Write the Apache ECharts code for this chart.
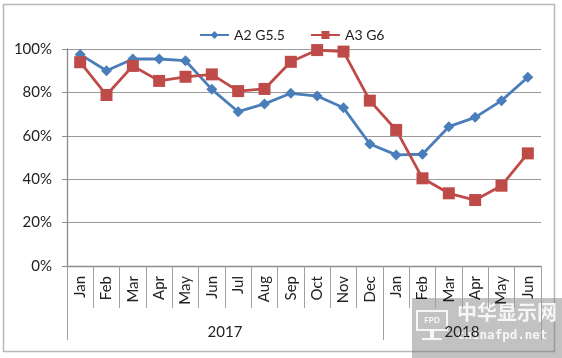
<!DOCTYPE html>
<html><head><meta charset="utf-8">
<script src="https://cdn.jsdelivr.net/npm/echarts@6/dist/echarts.min.js"></script>
<style>html,body{margin:0;padding:0;background:#fff}#c{width:562px;height:358px}</style>
</head><body><div id="c"></div>
<script>
var months = ['Jan','Feb','Mar','Apr','May','Jun','Jul','Aug','Sep','Oct','Nov','Dec','Jan','Feb','Mar','Apr','May','Jun'];
var years = ['2017','2018'];
var yearSpan = [12, 6];
var seriesA2 = [97.5, 90.0, 95.4, 95.4, 94.6, 81.4, 71.1, 74.7, 79.6, 78.3, 72.9, 56.2, 51.2, 51.5, 64.2, 68.5, 76.2, 87.0];
var seriesA3 = [93.9, 78.8, 92.2, 85.3, 87.2, 88.3, 80.6, 81.6, 94.1, 99.5, 98.8, 76.2, 62.7, 40.4, 33.5, 30.4, 37.0, 51.9];
var yTicks = [0, 20, 40, 60, 80, 100];

// year axis: half-month points, year labels at centre of each span
var yearData = [], yearLabelIdx = [], yearTickIdx = [0];
(function(){
  var n = 0;
  for (var i = 0; i < years.length; i++) {
    yearLabelIdx.push(n + yearSpan[i]);
    n += yearSpan[i] * 2;
    yearTickIdx.push(n);
  }
  for (var k = 0; k <= n; k++) yearData.push('');
  for (var j = 0; j < years.length; j++) yearData[yearLabelIdx[j]] = years[j];
})();

var font = 'Lato, "Open Sans", sans-serif';
var chart = echarts.init(document.getElementById('c'), null, {renderer:'canvas'});
chart.setOption({
  animation: false,
  textStyle: {fontFamily: font},
  legend: {
    top: 23, left: 194, itemGap: 25, itemWidth: 29, itemHeight: 10,
    textStyle: {fontSize: 14, color: '#222', fontFamily: font},
    data: ['A2 G5.5', 'A3 G6']
  },
  grid: {left: 67, right: 21, top: 49, bottom: 92, containLabel: false},
  xAxis: [{
    type: 'category', data: months, boundaryGap: true,
    axisLine: {lineStyle: {color: '#8c8c8c', width: 1.3}},
    axisTick: {show: true, interval: 0, length: 42, lineStyle: {color: '#a0a0a0'}},
    axisLabel: {rotate: 90, interval: 0, margin: 10,
      fontSize: 15, color: '#222', fontFamily: font}
  }, {
    type: 'category', data: yearData, boundaryGap: false, position: 'bottom',
    axisLine: {show: false},
    axisTick: {show: true, length: 74, lineStyle: {color: '#a0a0a0'},
      interval: function(i){ return yearTickIdx.indexOf(i) >= 0; }},
    axisLabel: {show: true, margin: 59, fontSize: 15, color: '#222', fontFamily: font,
      interval: function(i){ return yearLabelIdx.indexOf(i) >= 0; }}
  }],
  yAxis: {
    type: 'value', min: 0, max: 100, interval: 20,
    axisLine: {show: true, lineStyle: {color: '#8c8c8c', width: 1.3}},
    axisTick: {show: true, length: 5, lineStyle: {color: '#8c8c8c'}},
    axisLabel: {formatter: '{value}%', fontSize: 15, color: '#222', margin: 15, fontFamily: font},
    splitLine: {lineStyle: {color: '#9a9a9a', width: 1.2}}
  },
  series: [{
    name: 'A2 G5.5', type: 'line', data: seriesA2, xAxisIndex: 0,
    symbol: 'diamond', symbolSize: 11,
    lineStyle: {color: '#4a7ebb', width: 2.8},
    itemStyle: {color: '#4a7ebb'}
  }, {
    name: 'A3 G6', type: 'line', data: seriesA3, xAxisIndex: 0,
    symbol: 'rect', symbolSize: 12,
    lineStyle: {color: '#be4b48', width: 2.8},
    itemStyle: {color: '#be4b48'}
  }],
  graphic: [{
    type: 'rect', shape: {x: 3.5, y: 4.5, width: 551, height: 347},
    style: {fill: 'none', stroke: '#b8b8b8', lineWidth: 1.5}, silent: true, z: -1
  }, {
    type: 'group', left: 412, top: 298, silent: true, z: 100,
    children: [
      {type: 'rect', shape: {x: 0, y: 0, width: 150, height: 60}, style: {fill: 'rgba(110,110,110,0.42)'}},
      {type: 'rect', shape: {x: 5, y: 13, width: 30, height: 19}, style: {fill: 'none', stroke: 'rgba(255,255,255,0.85)', lineWidth: 2}},
      {type: 'rect', shape: {x: 18, y: 32, width: 4, height: 8}, style: {fill: 'rgba(255,255,255,0.85)'}},
      {type: 'rect', shape: {x: 10, y: 40, width: 20, height: 2}, style: {fill: 'rgba(255,255,255,0.85)'}},
      {type: 'text', style: {x: 20, y: 22.5, text: 'FPD', fill: 'rgba(255,255,255,0.9)', fontSize: 8, fontWeight: 'bold', align: 'center', verticalAlign: 'middle', fontFamily: font}},
      {type: 'text', style: {x: 45, y: 4, text: '中华显示网', fill: 'rgba(255,255,255,0.85)', fontSize: 20, fontWeight: 'bold', fontFamily: '"Noto Sans CJK SC", sans-serif'}},
      {type: 'text', style: {x: 45, y: 31, text: 'chinafpd.net', fill: 'rgba(255,255,255,0.85)', fontSize: 12.5, fontWeight: 'bold', fontFamily: '"DejaVu Sans Mono", monospace'}}
    ]
  }]
});
</script></body></html>
